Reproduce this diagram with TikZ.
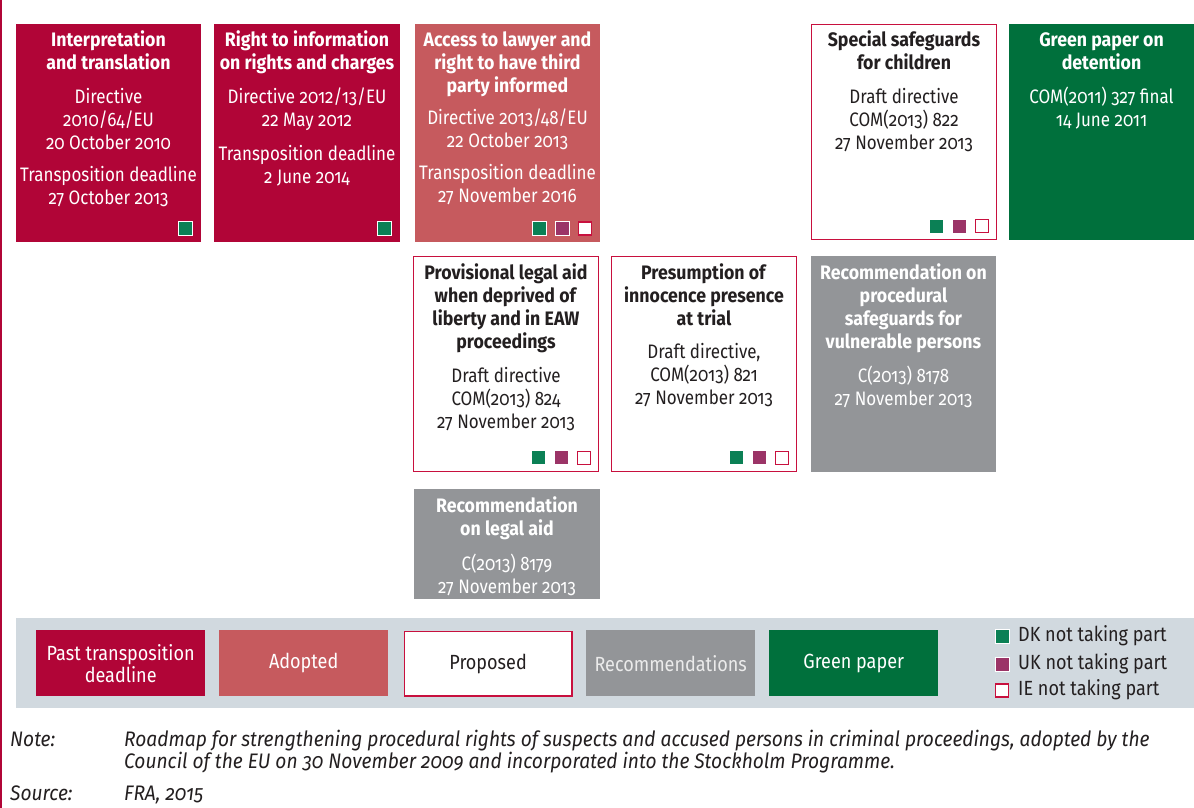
\documentclass[tikz,border=0pt]{standalone}
\usepackage{fontspec}
\setmainfont{Fira Sans}[Numbers=OldStyle, FakeStretch=0.87, BoldFeatures={FakeStretch=0.91}]
\newfontfamily\notefont{Fira Sans}[Numbers=OldStyle, FakeStretch=0.913]
\newfontfamily\legfont{Fira Sans}[Numbers=OldStyle, FakeStretch=0.88]
\definecolor{crim}{HTML}{B10537}
\definecolor{adopt}{HTML}{C65A5E}
\definecolor{recg}{HTML}{939598}
\definecolor{gpap}{HTML}{00703C}
\definecolor{panel}{HTML}{D1D9DF}
\definecolor{mgreen}{HTML}{0B8055}
\definecolor{mpurp}{HTML}{9B3467}
\definecolor{dark}{HTML}{231F20}
\definecolor{propb}{HTML}{C8103E}
\newcommand{\fl}{\rule{0pt}{16pt}}
\tikzset{
  cell/.style={anchor=north west, inner sep=0pt, outer sep=0pt},
  pastbox/.style={cell, fill=crim},
  adoptbox/.style={cell, fill=adopt},
  recbox/.style={cell, fill=recg},
  greenbox/.style={cell, fill=gpap},
  propbox/.style={cell, fill=white, draw=propb, line width=1.4pt},
  txt/.style={anchor=north, align=center, inner sep=0pt, font=\fontsize{19.5}{23}\selectfont},
  wtxt/.style={txt, text=white},
  dtxt/.style={txt, text=dark},
  mk/.style={minimum size=14pt, inner sep=0pt, draw=white, line width=0.8pt},
  mkg/.style={mk, fill=mgreen},
  mkp/.style={mk, fill=mpurp},
  mki/.style={mk, fill=white, draw=propb, line width=1.2pt, minimum size=13pt},
  legbox/.style={anchor=north west, inner sep=0pt, minimum width=169pt, minimum height=66pt, align=center, font=\legfont\fontsize{20.5}{22}\selectfont},
  legtxt/.style={anchor=west, inner sep=0pt, text=dark, font=\legfont\fontsize{20.5}{22}\selectfont},
  notetxt/.style={anchor=base west, inner sep=0pt, text=dark, align=left, font=\notefont\itshape\fontsize{21}{22}\selectfont},
}
\begin{document}
\begin{tikzpicture}[x=1pt, y=-1pt]
\useasboundingbox (0,0) rectangle (1194,808);
\fill[white] (0,0) rectangle (1194,808);
\draw[crim, line width=1.5pt] (1,0) -- (1,808);

% ---- row 1
\node[pastbox, minimum width=185pt, minimum height=218pt] (b1) at (16,24) {};
\node[wtxt] (t1) at ([yshift=-6pt]b1.north) {\fl\textbf{Interpretation}\\\textbf{and translation}\\[11pt]Directive\\2010/64/EU\\20 October 2010\\[9pt]Transposition deadline\\27 October 2013};
\node[mkg] (m1g) at ([xshift=-15.5pt, yshift=13.5pt]b1.south east) {};

\node[pastbox, minimum width=186pt, minimum height=218pt] (b2) at (214,24) {};
\node[wtxt] (t2) at ([yshift=-6pt]b2.north) {\fl\textbf{Right to information}\\\textbf{on rights and charges}\\[11pt]Directive 2012/13/EU\\22 May 2012\\[11pt]Transposition deadline\\2 June 2014};
\node[mkg] (m2g) at ([xshift=-15.5pt, yshift=13.5pt]b2.south east) {};

\node[adoptbox, minimum width=185pt, minimum height=218pt] (b3) at (415,24) {};
\node[wtxt] (t3) at ([yshift=-6pt]b3.north) {\fl\textbf{Access to lawyer and}\\\textbf{right to have third}\\\textbf{party informed}\\[9pt]Directive 2013/48/EU\\22 October 2013\\[9pt]Transposition deadline\\27 November 2016};
\node[mkg] (m3g) at ([xshift=-61pt, yshift=13.5pt]b3.south east) {};
\node[mkp] (m3p) at ([xshift=-38pt, yshift=13.5pt]b3.south east) {};
\node[mki] (m3i) at ([xshift=-15pt, yshift=13.5pt]b3.south east) {};

\node[propbox, minimum width=184.6pt, minimum height=214.6pt] (b4) at (811.7,24.7) {};
\node[dtxt] (t4) at ([yshift=-5.3pt]b4.north) {\fl\textbf{Special safeguards}\\\textbf{for children}\\[11pt]Draft directive\\COM(2013) 822\\27 November 2013};
\node[mkg] (m4g) at ([xshift=-60pt, yshift=13pt]b4.south east) {};
\node[mkp] (m4p) at ([xshift=-37pt, yshift=13pt]b4.south east) {};
\node[mki] (m4i) at ([xshift=-14pt, yshift=13pt]b4.south east) {};

\node[greenbox, minimum width=185pt, minimum height=216pt] (b5) at (1009,24) {};
\node[wtxt] (t5) at ([yshift=-6pt]b5.north) {\fl\textbf{Green paper on}\\\textbf{detention}\\[11pt]COM(2011) 327 final\\14 June 2011};

% ---- row 2
\node[propbox, minimum width=184.6pt, minimum height=214.6pt] (p1) at (413.7,256.7) {};
\node[dtxt] (tp1) at ([yshift=-6.3pt]p1.north) {\fl\textbf{Provisional legal aid}\\\textbf{when deprived of}\\\textbf{liberty and in EAW}\\\textbf{proceedings}\\[11pt]Draft directive\\COM(2013) 824\\27 November 2013};
\node[mkg] (mp1g) at ([xshift=-60pt, yshift=13.5pt]p1.south east) {};
\node[mkp] (mp1p) at ([xshift=-37pt, yshift=13.5pt]p1.south east) {};
\node[mki] (mp1i) at ([xshift=-14pt, yshift=13.5pt]p1.south east) {};

\node[propbox, minimum width=184.6pt, minimum height=214.6pt] (p2) at (611.7,256.7) {};
\node[dtxt] (tp2) at ([yshift=-6.3pt]p2.north) {\fl\textbf{Presumption of}\\\textbf{innocence presence}\\\textbf{at trial}\\[10pt]Draft directive,\\COM(2013) 821\\27 November 2013};
\node[mkg] (mp2g) at ([xshift=-60pt, yshift=13.5pt]p2.south east) {};
\node[mkp] (mp2p) at ([xshift=-37pt, yshift=13.5pt]p2.south east) {};
\node[mki] (mp2i) at ([xshift=-14pt, yshift=13.5pt]p2.south east) {};

\node[recbox, minimum width=185pt, minimum height=216pt] (r1) at (811,256) {};
\node[wtxt] (tr1) at ([yshift=-7pt]r1.north) {\fl\textbf{Recommendation on}\\\textbf{procedural}\\\textbf{safeguards for}\\\textbf{vulnerable persons}\\[11pt]C(2013) 8178\\27 November 2013};

% ---- row 3
\node[recbox, minimum width=186pt, minimum height=110pt] (r2) at (414,489) {};
\node[wtxt] (tr2) at ([yshift=-7pt]r2.north) {\fl\textbf{Recommendation}\\\textbf{on legal aid}\\[12pt]C(2013) 8179\\27 November 2013};

% ---- legend
\fill[panel] (16,618) rectangle (1194,708);
\node[legbox, fill=crim, text=white] (lpast) at (36,630) {Past transposition\\deadline};
\node[legbox, fill=adopt, text=white] (ladopt) at (219,630) {Adopted};
\node[legbox, fill=white, draw=propb, line width=1.2pt, minimum width=167.8pt, minimum height=64.8pt, text=dark] (lprop) at (403.6,630.6) {Proposed};
\node[legbox, fill=recg, text=white!92!black] (lrec) at (586,630) {Recommendations};
\node[legbox, fill=gpap, text=white] (lgreen) at (769,630) {Green paper};

\node[mkg] (lmg) at (1002,636.5) {};
\node[mkp] (lmp) at (1002,664.5) {};
\node[mki] (lmi) at (1002,690.5) {};
\node[legtxt] (ldk) at (1018,635.5) {DK not taking part};
\node[legtxt] (luk) at (1018,663.5) {UK not taking part};
\node[legtxt] (lie) at (1018,689.5) {IE not taking part};

% ---- notes
\node[notetxt] (nlab) at (10,746) {Note:};
\node[notetxt] (ntxt) at (124,768) {Roadmap for strengthening procedural rights of suspects and accused persons in criminal proceedings, adopted by the\\Council of the EU on 30 November 2009 and incorporated into the Stockholm Programme.};
\node[notetxt] (slab) at (10,800) {Source:};
\node[notetxt] (stxt) at (124,800) {FRA, 2015};
\end{tikzpicture}
\end{document}
